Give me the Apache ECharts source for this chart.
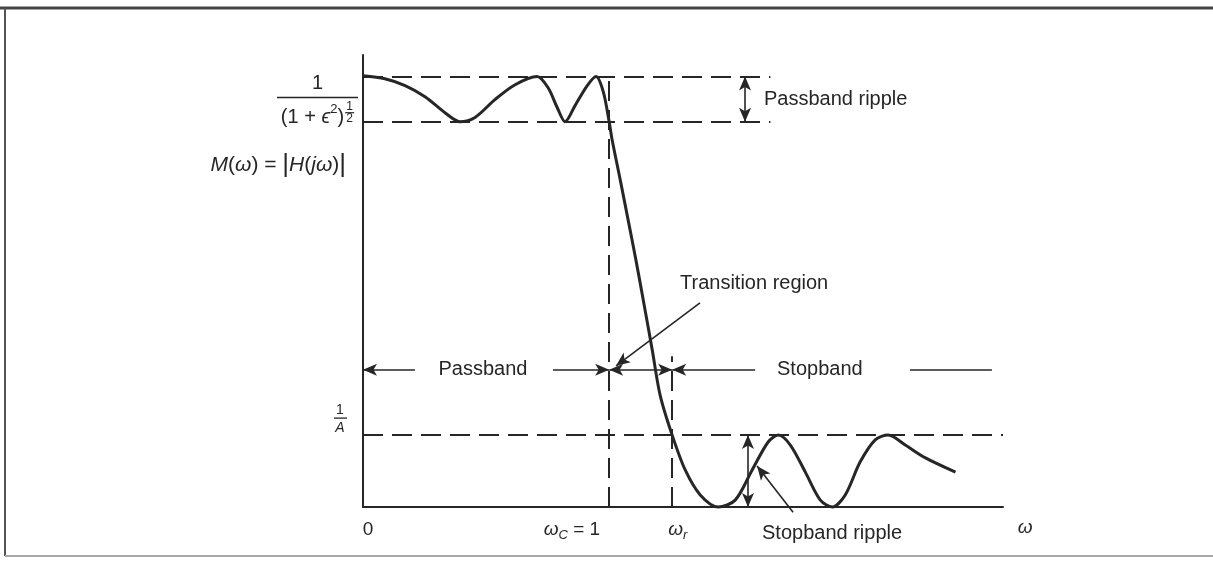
<!DOCTYPE html>
<html><head><meta charset="utf-8">
<script src="https://cdn.jsdelivr.net/npm/echarts@6/dist/echarts.min.js"></script>
<style>html,body{margin:0;padding:0;background:#fff}#c{width:1213px;height:566px}</style>
</head><body><div id="c"></div>
<script>
// ---- data ----
const omega = [0, 0.089, 0.171, 0.252, 0.333, 0.394, 0.455, 0.537, 0.618, 0.707, 0.752, 0.789, 0.821, 0.862, 0.911, 0.947, 0.976, 1.0,
  1.012, 1.045, 1.077, 1.110, 1.142, 1.175, 1.207, 1.256, 1.309, 1.370, 1.443, 1.512, 1.581, 1.646, 1.687, 1.736, 1.797, 1.858,
  1.907, 1.959, 2.020, 2.081, 2.134, 2.203, 2.285, 2.407];
const magnitude = [1.002, 0.995, 0.979, 0.953, 0.916, 0.895, 0.905, 0.947, 0.981, 1.0, 0.974, 0.928, 0.895, 0.933, 0.979, 1.0, 0.965, 0.895,
  0.853, 0.760, 0.667, 0.570, 0.470, 0.365, 0.260, 0.167, 0.086, 0.028, 0, 0.016, 0.086, 0.151, 0.167, 0.144, 0.081, 0.016,
  0, 0.028, 0.105, 0.156, 0.167, 0.144, 0.114, 0.081];
const levelValues = [1, 0.895, 0.167];      // passband max, passband min 1/(1+e^2)^1/2, stopband 1/A
const edgeFreqs = [1, 1.256];               // omega_c, omega_r
const tickValues = [0, 1, 1.256, 2.69];
const tickLabels = ['0', 'ωc = 1', 'ωr', 'ω'];
const bandLabels = ['Passband', 'Stopband', 'Transition region', 'Passband ripple', 'Stopband ripple'];
const xMax = 2.6, yMax = 1.05;
const arrowLevel = 0.319;

const ink = '#262626';
const chart = echarts.init(document.getElementById('c'));

const dashed = [
  [[0, levelValues[0]], [1.655, levelValues[0]]],
  [[0, levelValues[1]], [1.655, levelValues[1]]],
  [[0, levelValues[2]], [xMax, levelValues[2]]],
  [[edgeFreqs[0], 0], [edgeFreqs[0], levelValues[0]]],
  [[edgeFreqs[1], 0], [edgeFreqs[1], 0.35]]
];
const doubleArrows = [
  [[edgeFreqs[0], arrowLevel], [edgeFreqs[1], arrowLevel]],
  [[1.552, levelValues[0]], [1.552, levelValues[1]]],
  [[1.564, levelValues[2]], [1.564, 0]]
];
const endArrows = [
  [[0.772, arrowLevel], [edgeFreqs[0], arrowLevel]],
  [[1.369, 0.474], [1.028, 0.328]],
  [[1.747, -0.012], [1.601, 0.095]]
];
const startArrows = [
  [[0, arrowLevel], [0.211, arrowLevel]],
  [[edgeFreqs[1], arrowLevel], [1.593, arrowLevel]]
];
const plainLines = [
  [[2.222, arrowLevel], [2.555, arrowLevel]]
];
function linesSeries(list, sym, style) {
  return {
    type: 'lines', coordinateSystem: 'cartesian2d', clip: false, silent: true, polyline: false,
    symbol: sym, symbolSize: [[9, 14], [9, 14]],
    lineStyle: Object.assign({ color: ink, width: 1.6, opacity: 1, curveness: 0 }, style || {}),
    data: list.map(c => ({ coords: c }))
  };
}

chart.setOption({
  animation: false,
  backgroundColor: '#fff',
  grid: { left: 363, right: 210, top: 55, bottom: 59, outerBoundsMode: 'none', containLabel: false },
  xAxis: { type: 'value', min: 0, max: xMax, axisLine: { show: true, lineStyle: { color: ink, width: 2 } },
    axisTick: { show: false }, axisLabel: { show: false }, splitLine: { show: false } },
  yAxis: { type: 'value', min: 0, max: yMax, axisLine: { show: true, lineStyle: { color: ink, width: 2 } },
    axisTick: { show: false }, axisLabel: { show: false }, splitLine: { show: false } },
  series: [
    { type: 'line', data: omega.map((w, i) => [w, magnitude[i]]), smooth: 0.3, symbol: 'none', clip: false,
      lineStyle: { color: ink, width: 3 }, z: 5 },
    linesSeries(dashed, ['none', 'none'], { width: 2, type: [20, 9] }),
    linesSeries(doubleArrows, ['arrow', 'arrow']),
    linesSeries(endArrows, ['none', 'arrow']),
    linesSeries(startArrows, ['arrow', 'none']),
    linesSeries(plainLines, ['none', 'none'])
  ]
});

// ---- text layout ----
const FAM = '"Liberation Sans", "DejaVu Sans", Arial, sans-serif';
const cv = document.createElement('canvas').getContext('2d');
function fontStr(size, italic) { return (italic ? 'italic ' : '') + size + 'px ' + FAM; }
function tw(t, size, italic) { cv.font = fontStr(size, italic); return cv.measureText(t).width; }
function txt(t, x, y, size, italic, align) {
  return { type: 'text', silent: true, z: 100, style: { text: t, x: x, y: y, fontSize: size, fontFamily: FAM,
    fontStyle: italic ? 'italic' : 'normal', fill: ink, align: align || 'left', verticalAlign: 'middle',
    textAlign: align || 'left', textVerticalAlign: 'middle' } };
}
function seg(x1, y1, x2, y2, width, color) {
  return { type: 'line', silent: true, z: 100, shape: { x1, y1, x2, y2 }, style: { stroke: color || ink, lineWidth: width || 1.6 } };
}
function run(pieces, x, y, align) {
  const total = pieces.reduce((s, p) => s + tw(p[0], p[1], p[2]), 0);
  let cx = align === 'right' ? x - total : align === 'center' ? x - total / 2 : x;
  const out = [];
  pieces.forEach(p => { out.push(txt(p[0], cx, y + (p[3] || 0), p[1], p[2], 'left')); cx += tw(p[0], p[1], p[2]); });
  return { els: out, end: cx, start: cx - total };
}

const px = (x, y) => chart.convertToPixel({ gridIndex: 0 }, [x, y]);
const yTop = px(0, levelValues[0])[1];
const yLow = px(0, levelValues[1])[1];
const yA = px(0, levelValues[2])[1];
const yArrow = px(0, arrowLevel)[1];
const yAxis0 = px(0, 0)[1];

const g = [];
// frame
g.push(seg(0, 8, 1213, 8, 3, '#444'));
g.push(seg(5, 8, 5, 556, 2, '#555'));
g.push(seg(5, 556, 1213, 556, 2, '#a8a8a8'));

// fraction 1/(1+e^2)^(1/2)
const fL = 277, fR = 358, fC = (fL + fR) / 2;
g.push(txt('1', fC, yTop + 7, 20, false, 'center'));
g.push(seg(fL, yTop + 21, fR, yTop + 21, 1.6));
{
  const d1 = '(1 + ', d2 = 'ϵ', d3 = '2', d4 = ')';
  const wTot = tw(d1, 20) + tw(d2, 20, true) + tw(d3, 13) + tw(d4, 20) + 10;
  let x = fC - wTot / 2;
  const yD = yLow - 4;
  g.push(txt(d1, x, yD, 20)); x += tw(d1, 20);
  g.push(txt(d2, x, yD, 20, true)); x += tw(d2, 20, true);
  g.push(txt(d3, x, yD - 8, 13)); x += tw(d3, 13);
  g.push(txt(d4, x, yD, 20)); x += tw(d4, 20) + 1;
  g.push(txt('1', x + 4.5, yD - 11, 12, false, 'center'));
  g.push(seg(x, yD - 5, x + 9, yD - 5, 1.2));
  g.push(txt('2', x + 4.5, yD + 1, 12, false, 'center'));
}
// M(w) = |H(jw)|
{
  const y = 165;
  const pieces = [['M', 21, true], ['(', 21, false], ['ω', 21, true], [')', 21, false], [' = ', 21, false],
    ['|', 26, false], ['H', 21, true], ['(', 21, false], ['jω', 21, true], [')', 21, false], ['|', 26, false]];
  run(pieces, 346, y, 'right').els.forEach(e => g.push(e));
}
// 1/A
g.push(txt('1', 340, yA - 25, 14, false, 'center'));
g.push(seg(334, yA - 17, 347, yA - 17, 1.3));
g.push(txt('A', 340, yA - 7, 14, true, 'center'));

// x tick labels
const yTick = yAxis0 + 23;
g.push(txt(tickLabels[0], px(tickValues[0], 0)[0] + 5, yTick, 19, false, 'center'));
{
  const xc = px(tickValues[1], 0)[0];
  run([['ω', 19, true], ['C', 13, true, 5], [' = 1', 19, false]], xc - 9, yTick, 'right').els.forEach(e => g.push(e));
  const xr = px(tickValues[2], 0)[0];
  run([['ω', 19, true], ['r', 13, true, 5]], xr - 4, yTick, 'left').els.forEach(e => g.push(e));
  g.push(txt('ω', px(tickValues[3], 0)[0], yTick - 2, 19, true, 'center'));
}

// band labels
g.push(txt(bandLabels[0], 483, yArrow, 20, false, 'center'));
g.push(txt(bandLabels[1], 777, yArrow, 20, false, 'left'));
g.push(txt(bandLabels[2], 680, 283, 20, false, 'left'));
g.push(txt(bandLabels[3], 764, (yTop + yLow) / 2, 20, false, 'left'));
g.push(txt(bandLabels[4], 762, 533, 20, false, 'left'));

chart.setOption({ graphic: g });
</script>
</body></html>
